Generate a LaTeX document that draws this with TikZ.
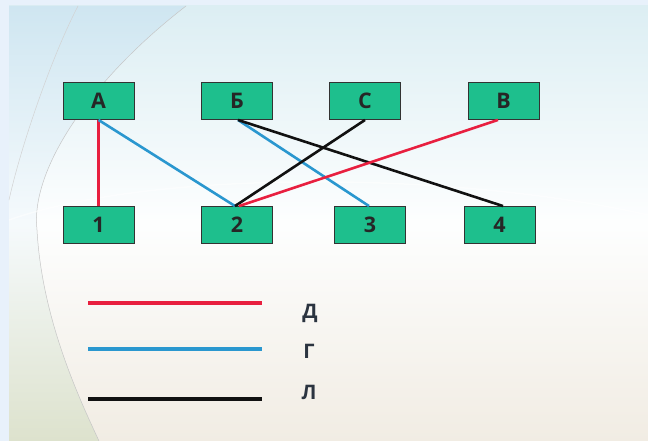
\documentclass[tikz,border=0pt]{standalone}
\usepackage{fontspec}
\setmainfont{Open Sans}
\definecolor{boxgreen}{HTML}{1EBF8D}
\definecolor{lred}{HTML}{E81F3F}
\definecolor{lblue}{HTML}{2A97CF}
\definecolor{lblack}{HTML}{111111}
\definecolor{frameblue}{HTML}{E8F1FB}
\definecolor{txtdark}{HTML}{2B3440}
\definecolor{skyA}{HTML}{DCEEF3}
\definecolor{creamA}{HTML}{F1ECE3}
\definecolor{leftsky}{HTML}{CFE6F1}
\definecolor{leftgreen}{HTML}{DDE2CD}
\tikzset{
  box/.style={draw=black!80, line width=0.9pt, fill=boxgreen, minimum width=71pt, minimum height=37pt, inner sep=0pt, font=\bfseries\fontsize{21.5}{21.5}\selectfont, text=black!85},
  conn/.style={line width=2.6pt},
  leg/.style={line width=4pt},
  legtxt/.style={font=\bfseries\fontsize{20}{20}\selectfont, text=txtdark, anchor=center}
}
\begin{document}
\begin{tikzpicture}[x=1pt,y=-1pt]
\useasboundingbox (0,0) rectangle (648,441);
% background
\fill[frameblue] (0,0) rectangle (648,441);
\shade[top color=skyA, bottom color=creamA, middle color=white!95!skyA] (9,6) rectangle (648,441);
% left region
\shade[top color=leftsky, bottom color=leftgreen, middle color=white!80!leftsky]
  (9,6) -- (186,6) .. controls (90,80) and (30,170) .. (37,230)
  .. controls (42,320) and (80,400) .. (99,441) -- (9,441) -- cycle;
\draw[gray!45, line width=0.5pt] (186,6) .. controls (90,80) and (30,170) .. (37,230)
  .. controls (42,320) and (80,400) .. (99,441);
\draw[gray!35, line width=0.5pt] (78,6) .. controls (50,60) and (20,150) .. (9,200);
\draw[white, line width=1.5pt, opacity=0.5] (9,220) .. controls (150,170) and (450,170) .. (648,215);
% boxes
\node[box] (A) at (98.5,101) {А};
\node[box] (B) at (237,101) {Б};
\node[box] (C) at (365,101) {С};
\node[box] (V) at (503.5,101) {В};
\node[box] (n1) at (98.5,225) {1};
\node[box] (n2) at (237,225) {2};
\node[box] (n3) at (370,225) {3};
\node[box] (n4) at (499.5,225) {4};
% connectors
\draw[conn, lred] (A.south) -- (n1.north);
\draw[conn, lblue] (A.south) -- ([xshift=-2pt]n2.north);
\draw[conn, lblue] ([xshift=1pt]B.south) -- ([xshift=-1pt]n3.north);
\draw[conn, lblack] ([xshift=1pt]B.south) -- ([xshift=3.5pt]n4.north);
\draw[conn, lblack] (C.south) -- ([xshift=-2pt]n2.north);
\draw[conn, lred] ([xshift=-5.5pt]V.south) -- ([xshift=2pt]n2.north);
% legend
\coordinate (r1) at (88,303); \coordinate (r2) at (262,303);
\coordinate (b1) at (88,349); \coordinate (b2) at (262,349);
\coordinate (k1) at (88,399); \coordinate (k2) at (262,399);
\draw[leg, lred] (r1) -- (r2);
\draw[leg, lblue] (b1) -- (b2);
\draw[leg, lblack] (k1) -- (k2);
\node[legtxt] (tD) at (310,313) {Д};
\node[legtxt] (tG) at (309,351) {Г};
\node[legtxt] (tL) at (309,392) {Л};
\end{tikzpicture}
\end{document}
